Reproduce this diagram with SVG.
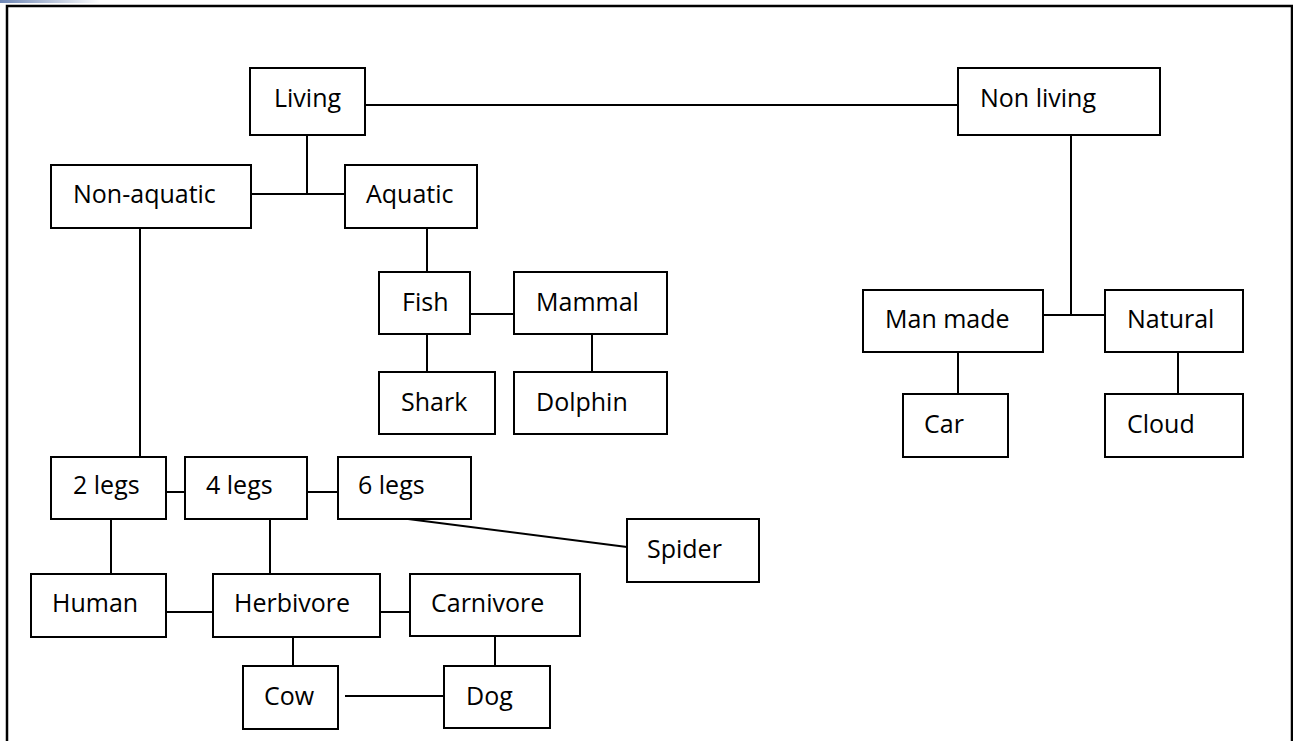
<svg xmlns="http://www.w3.org/2000/svg" width="1293" height="741" viewBox="0 0 1293 741">
<style>
.box{fill:#fff;stroke:#000;stroke-width:2}
.lbl{font-family:"Open Sans","Liberation Sans",sans-serif;font-size:25px;fill:#000}
.con line{stroke:#000;stroke-width:2}
</style>
<defs>
<linearGradient id="g" x1="0" x2="1" y1="0" y2="0">
<stop offset="0" stop-color="#6d86b5"/>
<stop offset="1" stop-color="#ffffff"/>
</linearGradient>
</defs>
<rect width="1293" height="741" fill="#fff"/>
<rect x="0" y="0" width="100" height="3" fill="url(#g)"/>
<path d="M7,741 V6 H1292 V741" fill="none" stroke="#000" stroke-width="2.5"/>
<g class="con">
<line x1="365" y1="105" x2="958" y2="105"/>
<line x1="307" y1="135" x2="307" y2="194"/>
<line x1="251" y1="194" x2="345" y2="194"/>
<line x1="140" y1="228" x2="140" y2="457"/>
<line x1="427" y1="228" x2="427" y2="272"/>
<line x1="427" y1="334" x2="427" y2="372"/>
<line x1="470" y1="314" x2="514" y2="314"/>
<line x1="592" y1="334" x2="592" y2="372"/>
<line x1="1071" y1="135" x2="1071" y2="315"/>
<line x1="1043" y1="315" x2="1105" y2="315"/>
<line x1="958" y1="352" x2="958" y2="394"/>
<line x1="1178" y1="352" x2="1178" y2="394"/>
<line x1="166" y1="492" x2="185" y2="492"/>
<line x1="307" y1="492" x2="338" y2="492"/>
<line x1="408" y1="519" x2="627" y2="547"/>
<line x1="111" y1="519" x2="111" y2="574"/>
<line x1="270" y1="519" x2="270" y2="574"/>
<line x1="166" y1="612" x2="213" y2="612"/>
<line x1="380" y1="612" x2="410" y2="612"/>
<line x1="293" y1="637" x2="293" y2="666"/>
<line x1="495" y1="636" x2="495" y2="666"/>
<line x1="345" y1="696" x2="444" y2="696"/>
</g>
<g id="living"><rect class="box" x="250" y="68" width="115" height="67"/><text class="lbl" x="274" y="107">Living</text></g>
<g id="nonliving"><rect class="box" x="958" y="68" width="202" height="67"/><text class="lbl" x="980" y="107">Non living</text></g>
<g id="nonaquatic"><rect class="box" x="51" y="165" width="200" height="63"/><text class="lbl" x="73" y="203">Non-aquatic</text></g>
<g id="aquatic"><rect class="box" x="345" y="165" width="132" height="63"/><text class="lbl" x="366" y="203">Aquatic</text></g>
<g id="fish"><rect class="box" x="379" y="272" width="91" height="62"/><text class="lbl" x="402" y="311">Fish</text></g>
<g id="mammal"><rect class="box" x="514" y="272" width="153" height="62"/><text class="lbl" x="536" y="311">Mammal</text></g>
<g id="shark"><rect class="box" x="379" y="372" width="116" height="62"/><text class="lbl" x="401" y="411">Shark</text></g>
<g id="dolphin"><rect class="box" x="514" y="372" width="153" height="62"/><text class="lbl" x="536" y="411">Dolphin</text></g>
<g id="manmade"><rect class="box" x="863" y="290" width="180" height="62"/><text class="lbl" x="885" y="328">Man made</text></g>
<g id="natural"><rect class="box" x="1105" y="290" width="138" height="62"/><text class="lbl" x="1127" y="328">Natural</text></g>
<g id="car"><rect class="box" x="903" y="394" width="105" height="63"/><text class="lbl" x="924" y="433">Car</text></g>
<g id="cloud"><rect class="box" x="1105" y="394" width="138" height="63"/><text class="lbl" x="1127" y="433">Cloud</text></g>
<g id="legs2"><rect class="box" x="51" y="457" width="115" height="62"/><text class="lbl" x="73" y="494">2 legs</text></g>
<g id="legs4"><rect class="box" x="185" y="457" width="122" height="62"/><text class="lbl" x="206" y="494">4 legs</text></g>
<g id="legs6"><rect class="box" x="338" y="457" width="133" height="62"/><text class="lbl" x="358" y="494">6 legs</text></g>
<g id="spider"><rect class="box" x="627" y="519" width="132" height="63"/><text class="lbl" x="647" y="558">Spider</text></g>
<g id="human"><rect class="box" x="31" y="574" width="135" height="63"/><text class="lbl" x="52" y="612">Human</text></g>
<g id="herbivore"><rect class="box" x="213" y="574" width="167" height="63"/><text class="lbl" x="234" y="612">Herbivore</text></g>
<g id="carnivore"><rect class="box" x="410" y="574" width="170" height="62"/><text class="lbl" x="431" y="612">Carnivore</text></g>
<g id="cow"><rect class="box" x="243" y="666" width="95" height="63"/><text class="lbl" x="264" y="705">Cow</text></g>
<g id="dog"><rect class="box" x="444" y="666" width="106" height="62"/><text class="lbl" x="466" y="705">Dog</text></g>
</svg>
